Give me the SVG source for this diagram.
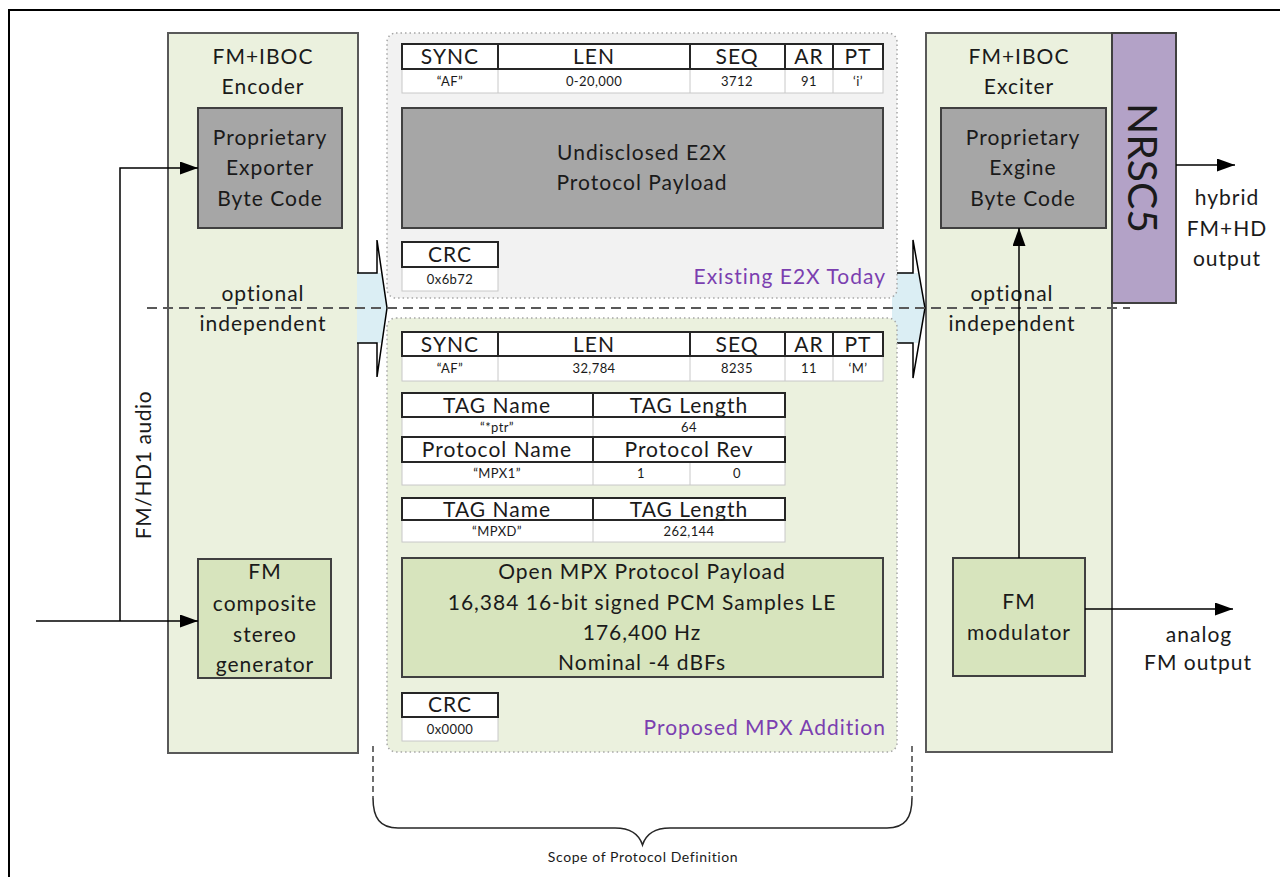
<svg xmlns="http://www.w3.org/2000/svg" width="1280" height="877" viewBox="0 0 1280 877">
<defs>
<marker id="ah" markerWidth="18" markerHeight="13" refX="18" refY="6.5" orient="auto" markerUnits="userSpaceOnUse">
<path d="M0,0 L18,6.5 L0,13 Z" fill="#000"/>
</marker>
<style>
text{font-family:Lato,"Liberation Sans",sans-serif;fill:#1a1a1a}
.t{font-size:21px;text-anchor:middle;letter-spacing:1px}
.v{font-size:13px;text-anchor:middle;letter-spacing:0.4px}
.p{font-size:21px;text-anchor:end;fill:#7b3fb0;letter-spacing:1px}
.outer{fill:#ebf1de;stroke:#595959;stroke-width:2}
.gray{fill:#a6a6a6;stroke:#404040;stroke-width:2}
.green{fill:#d7e4bd;stroke:#404040;stroke-width:2}
.cont{stroke:#a6a6a6;stroke-width:1.5;stroke-dasharray:1.5 3}
.hd{fill:#fff;stroke:#262626;stroke-width:2}
.vl{fill:#fff;stroke:#c8c8c8;stroke-width:1}
.ln{fill:none;stroke:#000;stroke-width:1.5}
</style>
</defs>
<rect x="9" y="10" width="1300" height="900" fill="#fff" stroke="#000" stroke-width="2"/>

<g id="encoder">
<rect class="outer" x="168" y="33" width="190" height="720"/>
<text class="t" x="263" y="64">FM+IBOC</text>
<text class="t" x="263" y="94">Encoder</text>
<text class="t" x="263" y="301">optional</text>
<text class="t" x="263" y="331">independent</text>
</g>
<g id="exporter">
<rect class="gray" x="198" y="108" width="144" height="120"/>
<text class="t" x="270" y="145">Proprietary</text>
<text class="t" x="270" y="175">Exporter</text>
<text class="t" x="270" y="206">Byte Code</text>
</g>
<g id="composite">
<rect class="green" x="198" y="559" width="133" height="119"/>
<text class="t" x="265" y="579">FM</text>
<text class="t" x="265" y="611">composite</text>
<text class="t" x="265" y="642">stereo</text>
<text class="t" x="265" y="672">generator</text>
</g>
<text x="0" y="0" transform="translate(151,465) rotate(-90)" style="font-size:21px;text-anchor:middle;letter-spacing:0.6px">FM/HD1 audio</text>

<g id="exciter">
<rect class="outer" x="926" y="33" width="186" height="719"/>
<text class="t" x="1019" y="64">FM+IBOC</text>
<text class="t" x="1019" y="94">Exciter</text>
<text class="t" x="1012" y="301">optional</text>
<text class="t" x="1012" y="331">independent</text>
</g>
<g id="exgine">
<rect class="gray" x="941" y="108" width="165" height="120"/>
<text class="t" x="1023" y="145">Proprietary</text>
<text class="t" x="1023" y="175">Exgine</text>
<text class="t" x="1023" y="206">Byte Code</text>
</g>
<g id="modulator">
<rect class="green" x="953" y="558" width="132" height="118"/>
<text class="t" x="1019" y="609">FM</text>
<text class="t" x="1019" y="640">modulator</text>
</g>
<g id="nrsc5">
<rect x="1112" y="33" width="64" height="270" fill="#b3a2c7" stroke="#404040" stroke-width="2"/>
<text x="0" y="0" transform="translate(1128,168) rotate(90)" style="font-size:40px;text-anchor:middle" textLength="130" lengthAdjust="spacingAndGlyphs">NRSC5</text>
</g>

<g id="link-arrows">
<polygon points="357,273 382,273 387,308 382,343 357,343" fill="#dbeef4"/>
<path class="ln" d="M357,273 L377,273 L377,240 L387,308 L377,377 L377,343 L357,343"/>
<polygon points="892,273 918,273 925,308 918,343 892,343" fill="#dbeef4"/>
<path class="ln" d="M897,273 L913,273 L913,240 L925,308 L913,378 L913,343 L897,343"/>
</g>

<g id="e2x">
<rect class="cont" x="387" y="33" width="510" height="265" rx="9" fill="#f2f2f2"/>
<rect class="vl" x="402" y="69" width="481" height="24"/>
<path d="M498,69V93M690,69V93M785,69V93M833,69V93" stroke="#c8c8c8"/>
<rect class="hd" x="402" y="44" width="481" height="25"/>
<path d="M498,44V69M690,44V69M785,44V69M833,44V69" stroke="#262626" stroke-width="2"/>
<text class="t" x="450" y="64">SYNC</text>
<text class="t" x="594" y="64">LEN</text>
<text class="t" x="737" y="64">SEQ</text>
<text class="t" x="809" y="64">AR</text>
<text class="t" x="858" y="64">PT</text>
<text class="v" x="450" y="86">“AF”</text>
<text class="v" x="594" y="86">0-20,000</text>
<text class="v" x="737" y="86">3712</text>
<text class="v" x="809" y="86">91</text>
<text class="v" x="858" y="86">‘i’</text>
<rect class="gray" x="402" y="108" width="481" height="120"/>
<text class="t" x="642" y="160">Undisclosed E2X</text>
<text class="t" x="642" y="190">Protocol Payload</text>
<rect class="vl" x="402" y="267" width="96" height="24"/>
<rect class="hd" x="402" y="242" width="96" height="25"/>
<text class="t" x="450" y="262">CRC</text>
<text class="v" x="450" y="284">0x6b72</text>
<text class="p" x="886" y="284">Existing E2X Today</text>
</g>

<g id="mpx">
<rect class="cont" x="387" y="318" width="510" height="434" rx="9" fill="#ebf1de"/>
<rect class="vl" x="402" y="356" width="481" height="25"/>
<path d="M498,356V381M690,356V381M785,356V381M833,356V381" stroke="#c8c8c8"/>
<rect class="hd" x="402" y="332" width="481" height="24"/>
<path d="M498,332V356M690,332V356M785,332V356M833,332V356" stroke="#262626" stroke-width="2"/>
<text class="t" x="450" y="352">SYNC</text>
<text class="t" x="594" y="352">LEN</text>
<text class="t" x="737" y="352">SEQ</text>
<text class="t" x="809" y="352">AR</text>
<text class="t" x="858" y="352">PT</text>
<text class="v" x="450" y="373">“AF”</text>
<text class="v" x="594" y="373">32,784</text>
<text class="v" x="737" y="373">8235</text>
<text class="v" x="809" y="373">11</text>
<text class="v" x="858" y="373">‘M’</text>

<rect class="vl" x="402" y="417" width="383" height="20"/>
<path d="M593,417V437" stroke="#c8c8c8"/>
<rect class="hd" x="402" y="393" width="383" height="24"/>
<path d="M593,393V417" stroke="#262626" stroke-width="2"/>
<text class="t" x="497" y="413">TAG Name</text>
<text class="t" x="689" y="413">TAG Length</text>
<text class="v" x="497" y="432">“*ptr”</text>
<text class="v" x="689" y="432">64</text>

<rect class="vl" x="402" y="462" width="383" height="23"/>
<path d="M593,462V485M690,462V485" stroke="#c8c8c8"/>
<rect class="hd" x="402" y="437" width="383" height="25"/>
<path d="M593,437V462" stroke="#262626" stroke-width="2"/>
<text class="t" x="497" y="457">Protocol Name</text>
<text class="t" x="689" y="457">Protocol Rev</text>
<text class="v" x="497" y="478">“MPX1”</text>
<text class="v" x="641" y="478">1</text>
<text class="v" x="737" y="478">0</text>

<rect class="vl" x="402" y="520" width="383" height="22"/>
<path d="M593,520V542" stroke="#c8c8c8"/>
<rect class="hd" x="402" y="498" width="383" height="22"/>
<path d="M593,498V520" stroke="#262626" stroke-width="2"/>
<text class="t" x="497" y="517">TAG Name</text>
<text class="t" x="689" y="517">TAG Length</text>
<text class="v" x="497" y="536">“MPXD”</text>
<text class="v" x="689" y="536">262,144</text>

<rect class="green" x="402" y="558" width="481" height="119"/>
<text class="t" x="642" y="579">Open MPX Protocol Payload</text>
<text class="t" x="642" y="610">16,384 16-bit signed PCM Samples LE</text>
<text class="t" x="642" y="640">176,400 Hz</text>
<text class="t" x="642" y="670">Nominal -4 dBFs</text>

<rect class="vl" x="402" y="717" width="96" height="24"/>
<rect class="hd" x="402" y="693" width="96" height="24"/>
<text class="t" x="450" y="712">CRC</text>
<text class="v" x="450" y="734">0x0000</text>
<text class="p" x="886" y="735">Proposed MPX Addition</text>
</g>

<path d="M147,308 H1130" stroke="#595959" stroke-width="2" stroke-dasharray="10 6" fill="none"/>

<g id="connectors">
<path class="ln" d="M36,621 H198" marker-end="url(#ah)"/>
<path class="ln" d="M120,621 V168 H198" marker-end="url(#ah)"/>
<path class="ln" d="M1019,558 V228" marker-end="url(#ah)"/>
<path class="ln" d="M1176,165 H1235" marker-end="url(#ah)"/>
<path class="ln" d="M1085,609 H1233" marker-end="url(#ah)"/>
</g>

<g id="outputs">
<text class="t" x="1227" y="205">hybrid</text>
<text class="t" x="1227" y="236">FM+HD</text>
<text class="t" x="1227" y="266">output</text>
<text class="t" x="1199" y="642">analog</text>
<text class="t" x="1198" y="670">FM output</text>
</g>

<g id="scope">
<path d="M373,746 V798 M912,746 V798" stroke="#404040" stroke-width="1.5" stroke-dasharray="6 4" fill="none"/>
<path d="M373,798 C373,818 380,828 398,828 L615,828 C630,828 639,834 642.5,845 C646,834 655,828 670,828 L887,828 C905,828 912,818 912,798" fill="none" stroke="#262626" stroke-width="1.5"/>
<text x="643" y="862" style="font-size:14px;text-anchor:middle;letter-spacing:0.6px">Scope of Protocol Definition</text>
</g>
</svg>
